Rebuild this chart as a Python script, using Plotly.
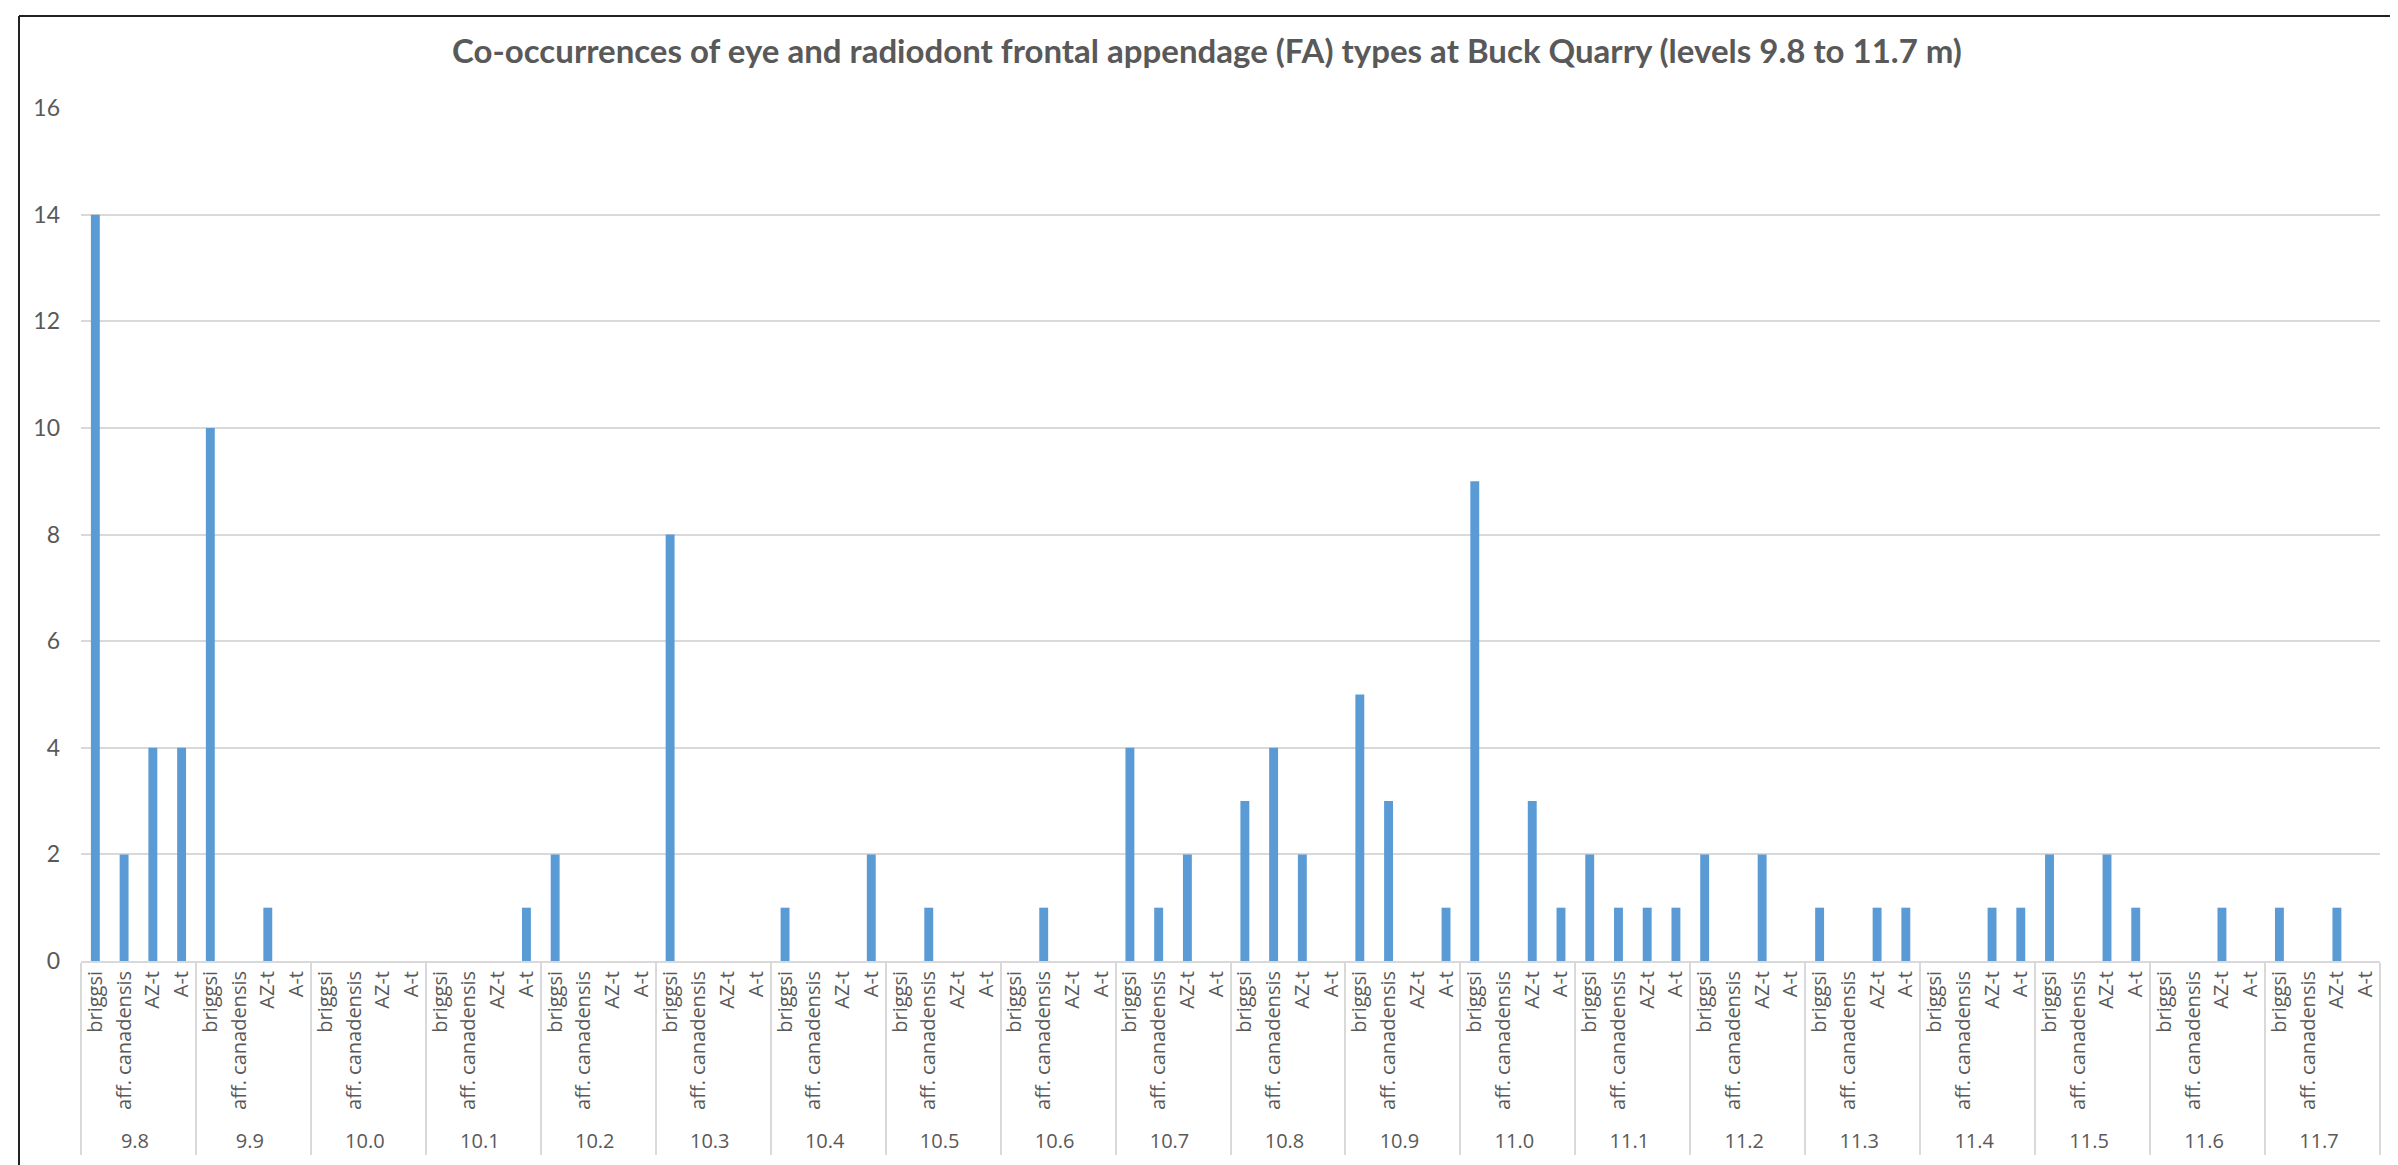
import plotly.graph_objects as go

levels = ["9.8", "9.9", "10.0", "10.1", "10.2", "10.3", "10.4", "10.5", "10.6", "10.7",
          "10.8", "10.9", "11.0", "11.1", "11.2", "11.3", "11.4", "11.5", "11.6", "11.7"]
fa_types = ["briggsi", "aff. canadensis", "AZ-t", "A-t"]

# counts per level, in order briggsi, aff. canadensis, AZ-t, A-t
briggsi = [14, 10, 0, 0, 2, 8, 1, 0, 0, 4, 3, 5, 9, 2, 2, 1, 0, 2, 0, 1]
aff_canadensis = [2, 0, 0, 0, 0, 0, 0, 1, 1, 1, 4, 3, 0, 1, 0, 0, 0, 0, 0, 0]
az_t = [4, 1, 0, 0, 0, 0, 0, 0, 0, 2, 2, 0, 3, 1, 2, 1, 1, 2, 1, 1]
a_t = [4, 0, 0, 1, 0, 0, 2, 0, 0, 0, 0, 1, 1, 1, 0, 1, 1, 1, 0, 0]

series = [briggsi, aff_canadensis, az_t, a_t]
outer, inner, vals = [], [], []
for i, lev in enumerate(levels):
    for j, t in enumerate(fa_types):
        outer.append(lev)
        inner.append(t)
        vals.append(series[j][i])

fig = go.Figure(go.Bar(
    x=[outer, inner], y=vals,
    marker=dict(color="#5B9BD5", line=dict(width=0)),
))

fig.update_layout(
    width=2398, height=1165,
    margin=dict(l=73, r=26, t=100, b=212),
    paper_bgcolor="white", plot_bgcolor="white",
    bargap=0.69,
    showlegend=False,
    title=dict(
        text="<b>Co-occurrences of eye and radiodont frontal appendage (FA) types at Buck Quarry (levels 9.8 to 11.7 m)</b>",
        x=0.5, xanchor="center", y=1 - 43 / 1165, yanchor="middle",
        font=dict(family="Lato", size=33, color="#595959"),
    ),
    font=dict(family="Lato", color="#595959"),
)

fig.update_xaxes(
    type="multicategory",
    tickangle=-90,
    tickfont=dict(family="Open Sans", size=20, color="#595959"),
    showline=True, linecolor="#D9D9D9", linewidth=2,
    showgrid=False,
    showdividers=True, dividercolor="#D9D9D9", dividerwidth=2,
    ticks="",
)
fig.update_yaxes(
    range=[0, 16], dtick=2,
    showgrid=True, gridcolor="#D9D9D9", gridwidth=2,
    zeroline=False,
    tickfont=dict(family="Lato", size=23, color="#595959"),
    ticks="", ticklabelstandoff=20,
)

# chart frame: dark top/left edges, light right/bottom edges
fx0, fx1 = -62 / 2299, 1 + 24 / 2299
fy0, fy1 = -208 / 853, 1 + 92 / 853
for (x0, y0, x1, y1, col) in [
    (fx0, fy1, fx1, fy1, "#222222"),
    (fx0, fy0, fx0, fy1, "#222222"),
    (fx1, fy0, fx1, fy1, "#D0D0D0"),
    (fx0, fy0, fx1, fy0, "#D0D0D0"),
]:
    fig.add_shape(type="line", xref="paper", yref="paper",
                  x0=x0, y0=y0, x1=x1, y1=y1,
                  line=dict(color=col, width=2), layer="below")

fig.write_html("out.html")
